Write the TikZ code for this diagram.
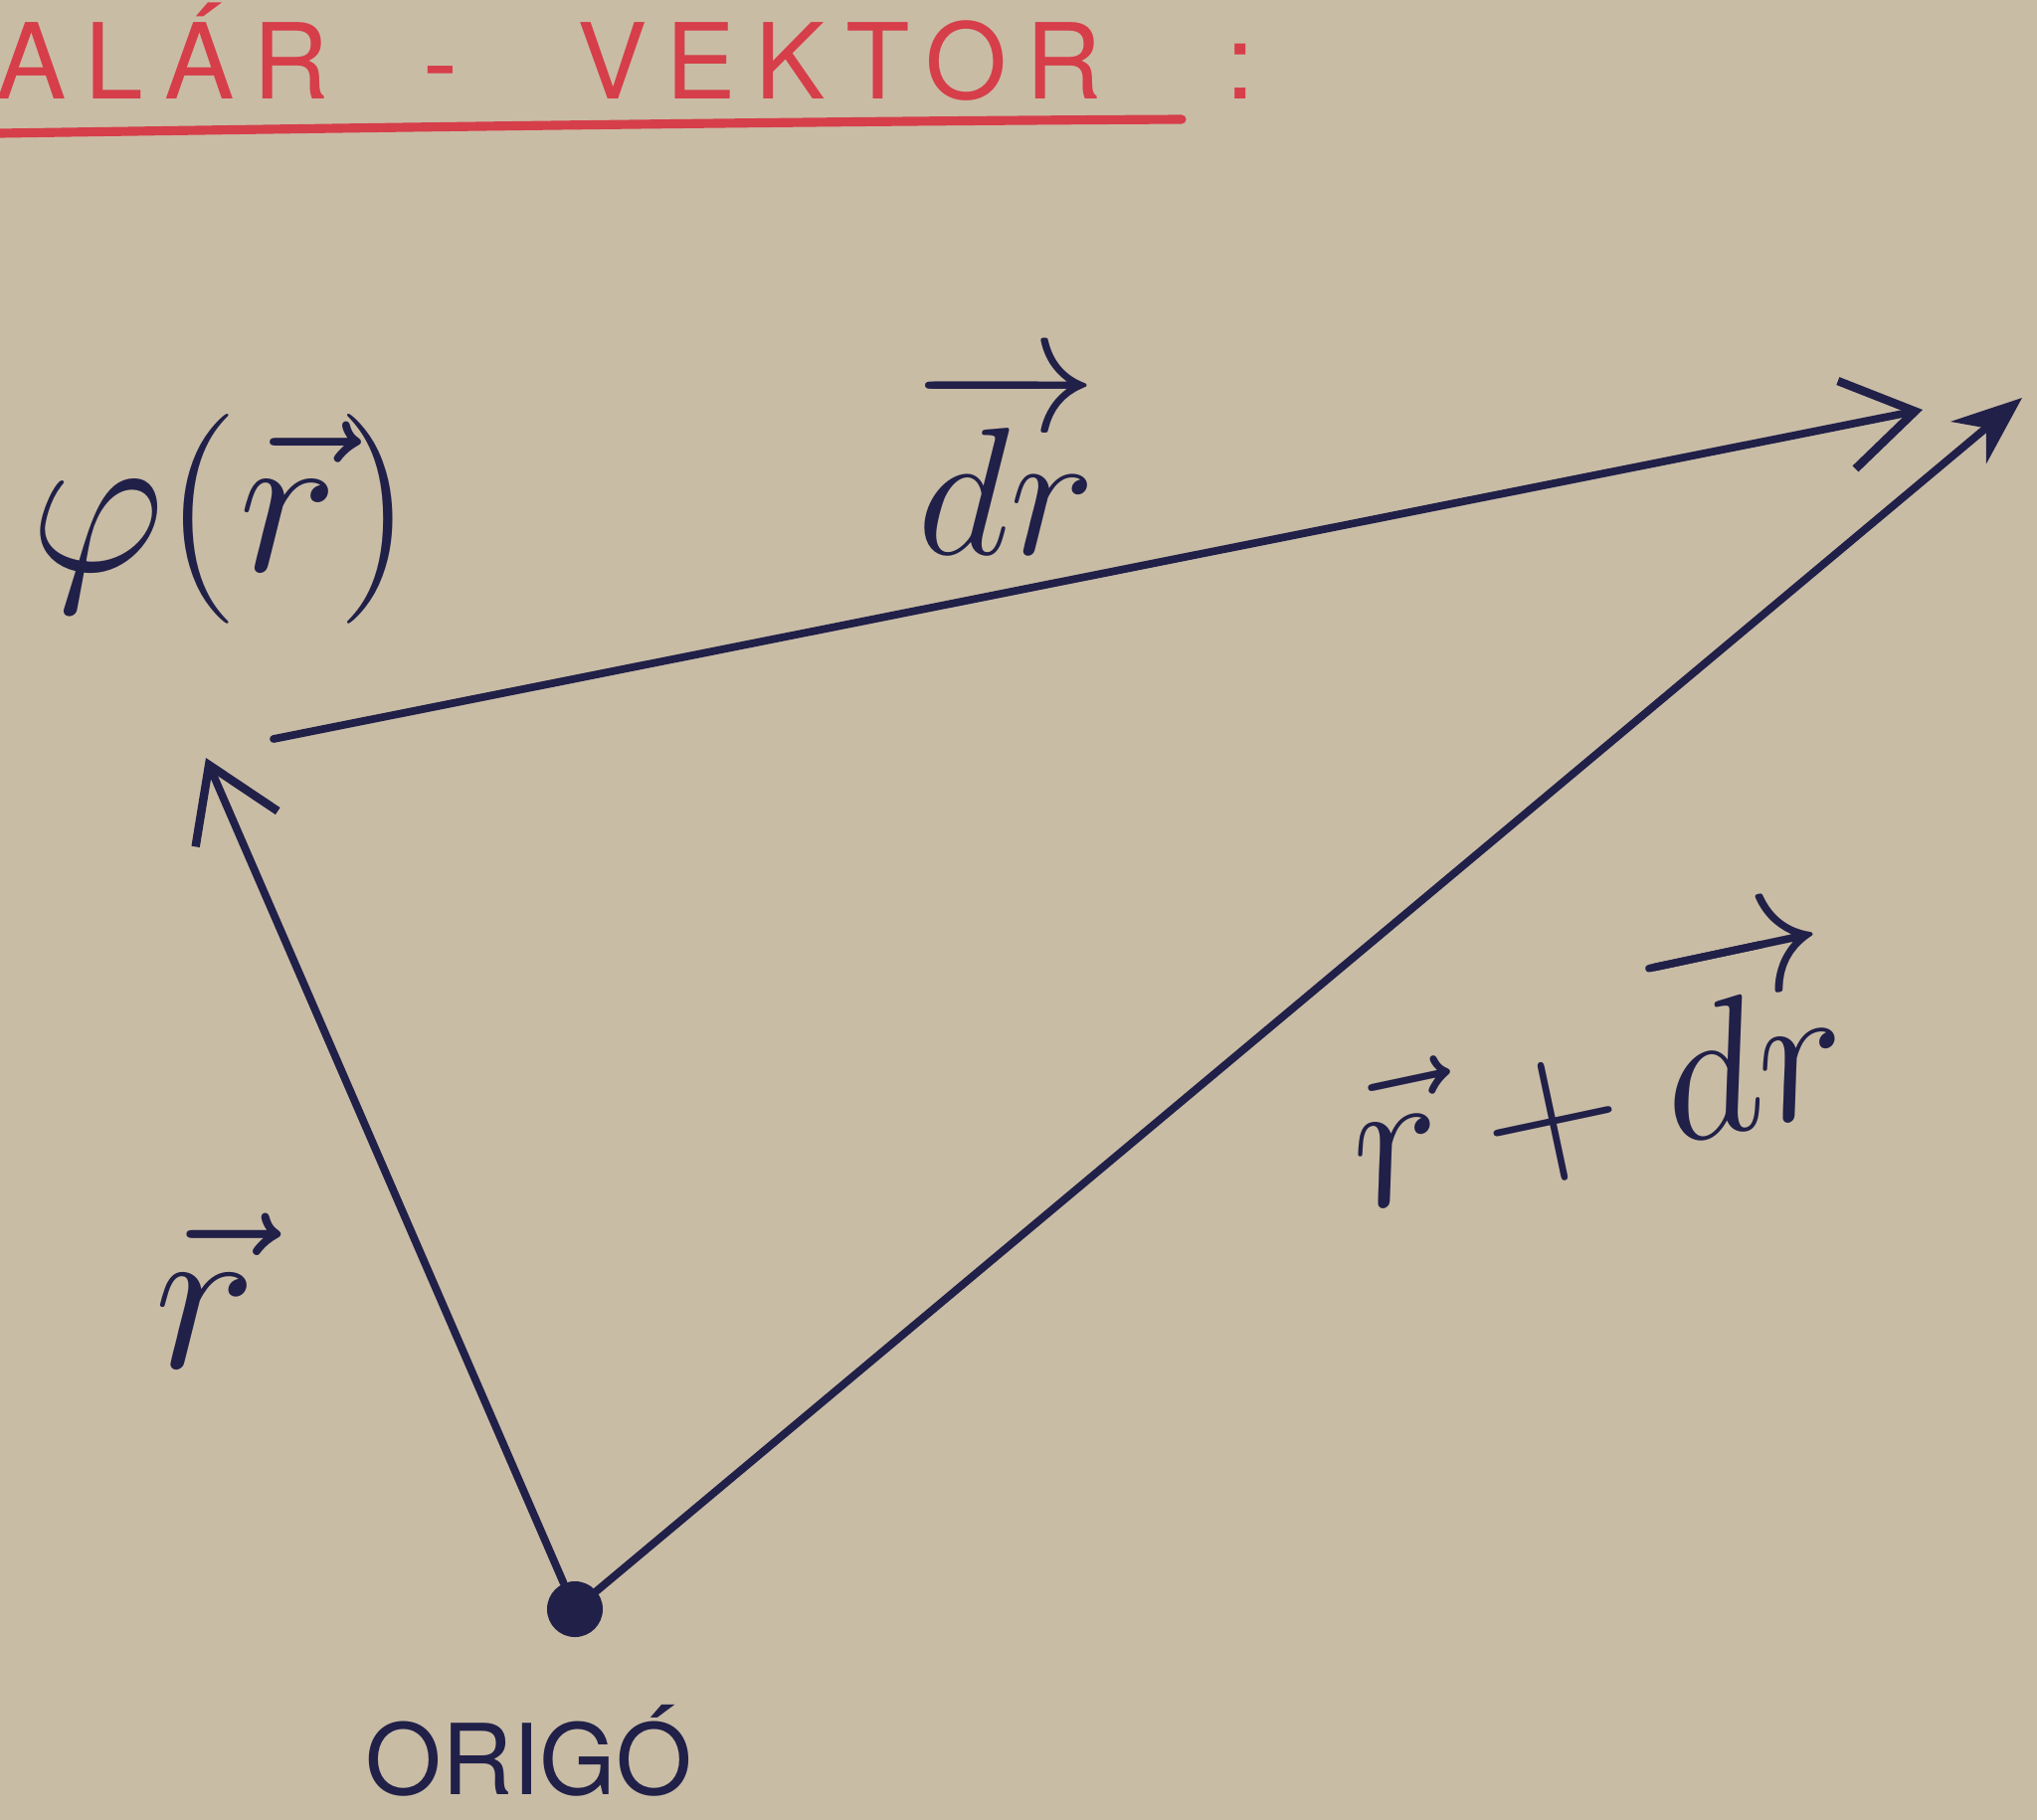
\RequirePackage{fix-cm}
\documentclass[tikz,border=0pt]{standalone}
\usepackage{fontspec}
\setsansfont{TeX Gyre Heros}
\usetikzlibrary{arrows.meta}
\definecolor{paper}{RGB}{201,188,165}
\definecolor{ink}{RGB}{32,32,72}
\definecolor{redink}{RGB}{214,62,74}
\tikzset{
  vec/.style={draw=ink, line width=2.2pt, line cap=round},
  openhead/.style={-{Straight Barb[length=7mm,width=9mm,line width=2.4pt]}},
  fullhead/.style={-{Stealth[length=7mm,width=5.5mm]}},
  lbl/.style={text=ink, inner sep=0pt},
  ttl/.style={text=redink, anchor=base west, inner sep=0pt,
    font=\sffamily\fontsize{30}{36}\selectfont\addfontfeature{LetterSpace=18}},
}
\begin{document}
\begin{tikzpicture}[x=0.01cm,y=-0.01cm]
\useasboundingbox (0,0) rectangle (2048,1830);
\fill[paper] (0,0) rectangle (2048,1830);
% title
\node[ttl] (t1) at (-4,100) {ALÁR};
\node[ttl] (t2) at (425,100) {-};
\node[ttl] (t3) at (580,100) {VEKTOR};
\node[ttl] (t4) at (1232,100) {:};
\coordinate (ul1) at (0,134);
\coordinate (ul2) at (1188,120);
\draw[draw=redink, line width=2.6pt, line cap=round] (ul1) .. controls (400,128) and (800,122) .. (ul2);
% points
\node[circle, fill=ink, minimum size=0.56cm, inner sep=0pt] (origin) at (578,1618) {};
\coordinate (P) at (207,762);
\coordinate (S) at (275,743);
\coordinate (Q) at (1933,412);
\coordinate (R) at (2033,400);
% vectors
\draw[vec, openhead] (origin) -- (P);
\draw[vec, openhead] (S) -- (Q);
\draw[vec, fullhead] (origin) -- (R);
% labels
\node[lbl, font=\fontsize{60}{70}\selectfont] (phi) at (222,522) {$\varphi(\vec r)$};
\node[lbl, font=\fontsize{52}{60}\selectfont] (drlab) at (1012,462) {$\overrightarrow{dr}$};
\node[lbl, font=\fontsize{62}{70}\selectfont] (rlab) at (207,1298) {$\vec r$};
\node[lbl, font=\fontsize{55}{64}\selectfont, rotate=12] (sumlab) at (1602,1072) {$\vec r+\overrightarrow{dr}$};
\node[lbl, font=\sffamily\fontsize{28}{34}\selectfont] (origo) at (532,1760) {ORIGÓ};
\end{tikzpicture}
\end{document}
